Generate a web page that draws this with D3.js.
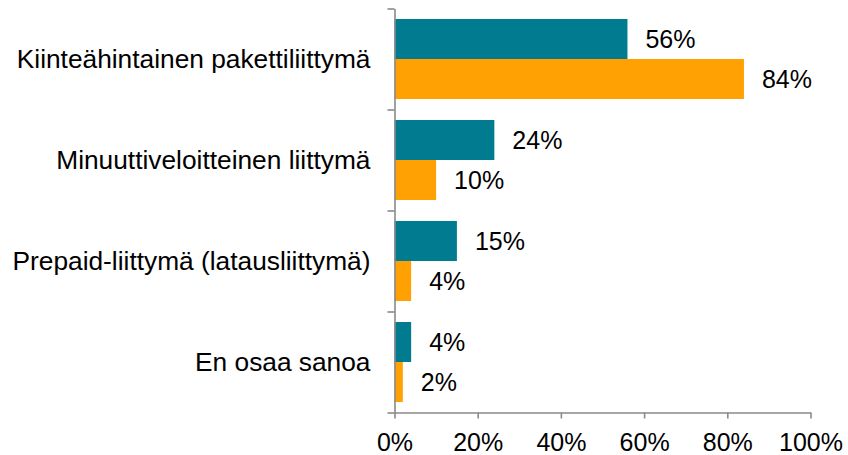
<!DOCTYPE html>
<html>
<head>
<meta charset="utf-8">
<script src="https://cdn.jsdelivr.net/npm/d3@7"></script>
<style>
  html, body { margin: 0; padding: 0; background: #fff; }
  svg text { font-family: "Liberation Sans", Arial, sans-serif; fill: #000; }
</style>
</head>
<body>
<div id="chart"></div>
<script>
// ── Data ──
const categories = [
  'Kiinteähintainen pakettiliittymä',
  'Minuuttiveloitteinen liittymä',
  'Prepaid-liittymä (latausliittymä)',
  'En osaa sanoa'
];
const seriesNames = ['teal', 'orange'];
const tealValues   = [56, 24, 15, 4];
const orangeValues = [84, 10, 4, 2];
const xTicks = [0, 20, 40, 60, 80, 100];

const colors = { teal: '#017B8F', orange: '#FFA102' };

const W = 848, H = 455;
const margin = { top: 8.5, right: 37.5, bottom: 42.5, left: 394.5 };
const width  = W - margin.left - margin.right;
const height = H - margin.top - margin.bottom;

const svg = d3.select('#chart').append('svg')
  .attr('width', W).attr('height', H)
  .append('g')
  .attr('transform', `translate(${margin.left},${margin.top})`);

const x = d3.scaleLinear().domain([0, 100]).range([0, width]);
const y = d3.scaleBand().domain(categories).range([0, height]);
const ySub = d3.scaleBand().domain(seriesNames)
  .range([y.bandwidth() * 0.104, y.bandwidth() * 0.896]);

const rows = categories.map((c, i) => ({
  cat: c,
  vals: [
    { s: 'teal', v: tealValues[i] },
    { s: 'orange', v: orangeValues[i] }
  ]
}));

// Bars
const groups = svg.selectAll('.grp').data(rows).enter().append('g')
  .attr('transform', d => `translate(0,${y(d.cat)})`);

groups.selectAll('rect').data(d => d.vals).enter().append('rect')
  .attr('x', 0)
  .attr('y', d => ySub(d.s))
  .attr('width', d => x(d.v))
  .attr('height', ySub.bandwidth())
  .attr('fill', d => colors[d.s]);

// Value labels
groups.selectAll('.val').data(d => d.vals).enter().append('text')
  .attr('x', d => x(d.v) + 18)
  .attr('y', d => ySub(d.s) + ySub.bandwidth() / 2)
  .attr('dy', '0.36em')
  .style('font-size', '25px')
  .text(d => `${d.v}%`);

// Category labels
svg.selectAll('.cat').data(categories).enter().append('text')
  .attr('x', -24)
  .attr('y', d => y(d) + y.bandwidth() / 2)
  .attr('dy', '0.36em')
  .attr('text-anchor', 'end')
  .style('font-size', '26.3px')
  .text(d => d);

// Axes
const yEdges = d3.scaleLinear().domain([0, categories.length]).range([0, height]);
const yAxis = svg.append('g')
  .call(d3.axisLeft(yEdges).tickValues(d3.range(categories.length + 1))
    .tickFormat('').tickSize(7).tickSizeOuter(0));

const xAxis = svg.append('g').attr('transform', `translate(0,${height})`)
  .call(d3.axisBottom(x).tickValues(xTicks).tickFormat(d => `${d}%`)
    .tickSize(6).tickSizeOuter(0).tickPadding(15));

[yAxis, xAxis].forEach(a => {
  a.selectAll('path, line').attr('stroke', '#8a8a8a').attr('stroke-width', 1.6);
  a.selectAll('text').style('font-size', '25px').attr('fill', '#000')
    .style('font-family', '"Liberation Sans", Arial, sans-serif');
});
</script>
</body>
</html>
